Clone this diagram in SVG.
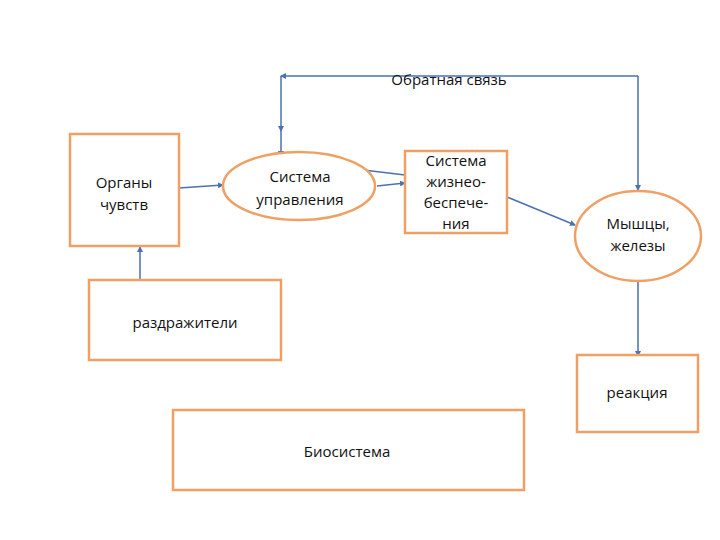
<svg xmlns="http://www.w3.org/2000/svg" width="720" height="540" viewBox="0 0 720 540">
<style>
.n{fill:#fff;stroke:#F0A064;stroke-width:2.5}
.c{fill:none;stroke:#4A72B0;stroke-width:1.5}
text{font-family:"Open Sans","Liberation Sans",sans-serif;font-size:15px;fill:#111;text-anchor:middle}
</style>
<defs>
<marker id="a" viewBox="0 0 6 6" refX="5" refY="3" markerWidth="4" markerHeight="4" orient="auto"><path d="M0,0L6,3L0,6z" fill="#4A72B0"/></marker>
</defs>
<rect width="720" height="540" fill="#fff"/>
<g id="connectors">
<path class="c" d="M638,76H281" marker-end="url(#a)"/>
<path class="c" d="M281,76V131" marker-end="url(#a)"/>
<path class="c" d="M281,131V156" marker-end="url(#a)"/>
<path class="c" d="M638,76V190" marker-end="url(#a)"/>
<path class="c" d="M179,188L223,185" marker-end="url(#a)"/>
<path class="c" d="M405,175L355,169" marker-end="url(#a)"/>
<path class="c" d="M377,186L405,183" marker-end="url(#a)"/>
<path class="c" d="M507,197L575,225" marker-end="url(#a)"/>
<path class="c" d="M638,281V356" marker-end="url(#a)"/>
<path class="c" d="M140,280V247" marker-end="url(#a)"/>
</g>
<g id="feedback-label"><text x="449" y="85">Обратная  связь</text></g>
<g id="organs"><rect class="n" x="70" y="134" width="109" height="112"/><text x="124" y="188">Органы</text><text x="124" y="210">чувств</text></g>
<g id="control"><ellipse class="n" cx="299" cy="186" rx="76" ry="34"/><text x="300" y="182">Система</text><text x="300" y="205">управления</text></g>
<g id="life"><rect class="n" x="405" y="151" width="102" height="82"/><text x="456" y="166">Система</text><text x="456" y="187">жизнео-</text><text x="456" y="208">беспече-</text><text x="456" y="229">ния</text></g>
<g id="muscles"><ellipse class="n" cx="638" cy="236" rx="63" ry="45"/><text x="638" y="229">Мышцы,</text><text x="638" y="251">железы</text></g>
<g id="stimuli"><rect class="n" x="89" y="280" width="192" height="80"/><text x="185" y="328">раздражители</text></g>
<g id="reaction"><rect class="n" x="577" y="355" width="121" height="77"/><text x="637" y="398">реакция</text></g>
<g id="biosystem"><rect class="n" x="173" y="410" width="351" height="80"/><text x="347" y="457">Биосистема</text></g>
</svg>
